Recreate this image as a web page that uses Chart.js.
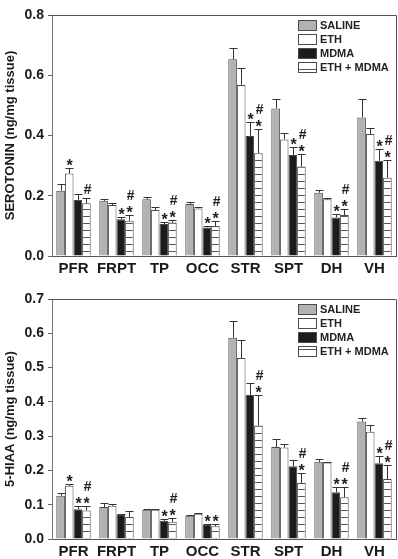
<!DOCTYPE html>
<html lang="en">
<head>
    <meta charset="UTF-8">
    <title>Serotonin and 5-HIAA</title>
    <style>
        body {
            margin: 0;
            padding: 0;
            background: #ffffff;
            font-family: "Liberation Sans", Arial, sans-serif;
        }
        .panel {
            position: absolute;
            left: 0;
            width: 398px;
        }
    </style>
</head>
<body>
    <div class="panel" style="top: 0; height: 280px;">
        <canvas id="serotoninChart" width="398" height="280"></canvas>
    </div>
    <div class="panel" style="top: 280px; height: 279px;">
        <canvas id="hiaaChart" width="398" height="279"></canvas>
    </div>

    <script src="https://cdn.jsdelivr.net/npm/chart.js"></script>
    <script>
        const regions = ['PFR', 'FRPT', 'TP', 'OCC', 'STR', 'SPT', 'DH', 'VH'];
        const seriesNames = ['SALINE', 'ETH', 'MDMA', 'ETH + MDMA'];

        // serotonin (ng/mg tissue), mean and SEM
        const serSaline = [0.217, 0.183, 0.188, 0.173, 0.653, 0.490, 0.210, 0.460];
        const serSalineErr = [0.021, 0.007, 0.009, 0.006, 0.036, 0.030, 0.009, 0.060];
        const serEth = [0.274, 0.169, 0.153, 0.158, 0.568, 0.387, 0.188, 0.405];
        const serEthErr = [0.017, 0.006, 0.009, 0.005, 0.057, 0.020, 0.003, 0.021];
        const serMdma = [0.186, 0.122, 0.106, 0.095, 0.398, 0.335, 0.128, 0.316];
        const serMdmaErr = [0.019, 0.009, 0.008, 0.006, 0.046, 0.028, 0.010, 0.040];
        const serCombo = [0.175, 0.117, 0.111, 0.100, 0.341, 0.297, 0.136, 0.260];
        const serComboErr = [0.019, 0.019, 0.009, 0.016, 0.079, 0.040, 0.020, 0.059];
        const serTicks = [0.0, 0.2, 0.4, 0.6, 0.8];

        // 5-HIAA (ng/mg tissue), mean and SEM
        const hiaaSaline = [0.126, 0.093, 0.085, 0.068, 0.587, 0.268, 0.225, 0.343];
        const hiaaSalineErr = [0.008, 0.012, 0.002, 0.002, 0.050, 0.023, 0.008, 0.009];
        const hiaaEth = [0.155, 0.097, 0.085, 0.074, 0.528, 0.267, 0.223, 0.313];
        const hiaaEthErr = [0.004, 0.004, 0.002, 0.002, 0.051, 0.011, 0.002, 0.020];
        const hiaaMdma = [0.087, 0.070, 0.053, 0.041, 0.420, 0.212, 0.136, 0.221];
        const hiaaMdmaErr = [0.008, 0.003, 0.005, 0.004, 0.036, 0.019, 0.015, 0.022];
        const hiaaCombo = [0.083, 0.064, 0.050, 0.037, 0.331, 0.163, 0.122, 0.175];
        const hiaaComboErr = [0.014, 0.018, 0.010, 0.006, 0.090, 0.029, 0.031, 0.042];
        const hiaaTicks = [0.0, 0.1, 0.2, 0.3, 0.4, 0.5, 0.6, 0.7];

        // significance marks above each bar ('#*' = # stacked over *)
        const serSigSaline = ['', '', '', '', '', '', '', ''];
        const serSigEth = ['*', '', '', '', '', '', '', ''];
        const serSigMdma = ['', '*', '*', '*', '*', '*', '*', '*'];
        const serSigCombo = ['#', '#*', '#*', '#*', '#*', '#*', '#*', '#*'];
        const hiaaSigSaline = ['', '', '', '', '', '', '', ''];
        const hiaaSigEth = ['*', '', '', '', '', '', '', ''];
        const hiaaSigMdma = ['*', '', '*', '*', '', '', '*', '*'];
        const hiaaSigCombo = ['#*', '', '#*', '*', '#*', '#*', '#*', '#*'];

        const FONT = '"Liberation Sans", Arial, sans-serif';
        const EDGE = '#4a4a4a';

        function stripePattern() {
            const c = document.createElement('canvas');
            c.width = 8;
            c.height = 7;
            const g = c.getContext('2d');
            g.fillStyle = '#ffffff';
            g.fillRect(0, 0, 8, 7);
            g.fillStyle = '#555555';
            g.fillRect(0, 6, 8, 1);
            return g.createPattern(c, 'repeat');
        }

        const fills = ['#b2b2b2', '#ffffff', '#1c1c1c', stripePattern()];

        // error bars, significance marks, frame and legend
        const extrasPlugin = {
            id: 'extras',
            afterDatasetsDraw(chart) {
                const ctx = chart.ctx;
                const y = chart.scales.y;
                const area = chart.chartArea;
                ctx.save();
                chart.data.datasets.forEach((ds, di) => {
                    const meta = chart.getDatasetMeta(di);
                    meta.data.forEach((bar, i) => {
                        const top = y.getPixelForValue(ds.data[i] + ds.err[i]);
                        const x = Math.round(bar.x) + 0.5;
                        ctx.strokeStyle = '#333';
                        ctx.lineWidth = 1;
                        ctx.beginPath();
                        ctx.moveTo(x, bar.y);
                        ctx.lineTo(x, Math.round(top) + 0.5);
                        ctx.moveTo(x - 4, Math.round(top) + 0.5);
                        ctx.lineTo(x + 4, Math.round(top) + 0.5);
                        ctx.stroke();

                        const marks = ds.sig[i];
                        let yy = top;
                        ctx.fillStyle = '#222';
                        ctx.textAlign = 'center';
                        ctx.textBaseline = 'alphabetic';
                        for (let k = marks.length - 1; k >= 0; k--) {
                            if (marks[k] === '*') {
                                ctx.font = 'bold 16px ' + FONT;
                                ctx.fillText('*', x, yy + 3);
                                yy -= 11;
                            } else {
                                ctx.font = 'italic bold 14px ' + FONT;
                                ctx.fillText('#', x + 1, yy - 4);
                                yy -= 14;
                            }
                        }
                    });
                });

                // top and right frame lines
                ctx.strokeStyle = '#555';
                ctx.lineWidth = 1;
                ctx.beginPath();
                ctx.moveTo(area.left - 3, Math.round(area.top) + 0.5);
                ctx.lineTo(Math.round(area.right) + 0.5, Math.round(area.top) + 0.5);
                ctx.lineTo(Math.round(area.right) + 0.5, area.bottom);
                ctx.stroke();

                // legend in the top right corner
                ctx.font = 'bold 11px ' + FONT;
                ctx.textAlign = 'left';
                ctx.textBaseline = 'middle';
                chart.data.datasets.forEach((ds, di) => {
                    const ly = Math.round(area.top + 5 + di * 14);
                    const lx = Math.round(area.right - 98);
                    ctx.fillStyle = ds.backgroundColor;
                    ctx.fillRect(lx, ly, 18, 10);
                    ctx.strokeStyle = EDGE;
                    ctx.strokeRect(lx + 0.5, ly + 0.5, 18, 10);
                    ctx.fillStyle = '#222';
                    ctx.fillText(ds.label, lx + 22, ly + 5.5);
                });
                ctx.restore();
            }
        };

        function createChart(id, series, errs, sigs, ticks, title, topPad, xHeight) {
            const ctx = document.getElementById(id).getContext('2d');
            return new Chart(ctx, {
                type: 'bar',
                data: {
                    labels: regions,
                    datasets: series.map((s, i) => ({
                        label: seriesNames[i],
                        data: s,
                        err: errs[i],
                        sig: sigs[i],
                        backgroundColor: fills[i],
                        borderColor: EDGE,
                        borderWidth: 1,
                        categoryPercentage: 0.8,
                        barPercentage: 1.0
                    }))
                },
                options: {
                    responsive: false,
                    animation: false,
                    layout: {
                        padding: { top: topPad, right: 2, left: 0, bottom: 0 }
                    },
                    plugins: {
                        legend: { display: false },
                        tooltip: { enabled: false }
                    },
                    scales: {
                        x: {
                            grid: { display: false, drawTicks: false },
                            border: { display: true, color: '#555' },
                            ticks: {
                                padding: 4,
                                maxRotation: 0,
                                minRotation: 0,
                                autoSkip: false,
                                color: '#1a1a1a',
                                font: { family: FONT, size: 15, weight: 'bold' }
                            },
                            afterFit: (scale) => { scale.height = xHeight; }
                        },
                        y: {
                            min: ticks[0],
                            max: ticks[ticks.length - 1],
                            afterBuildTicks: (scale) => {
                                scale.ticks = ticks.map(v => ({ value: v }));
                            },
                            grid: {
                                drawOnChartArea: false,
                                drawTicks: true,
                                tickLength: 4,
                                color: '#666'
                            },
                            border: { display: true, color: '#777' },
                            ticks: {
                                padding: 4,
                                color: '#1a1a1a',
                                font: { family: FONT, size: 14, weight: 'bold' },
                                callback: (value) => value.toFixed(1)
                            },
                            title: {
                                display: true,
                                text: title,
                                color: '#1a1a1a',
                                padding: { top: 3, bottom: 0 },
                                font: { family: FONT, size: 13, weight: 'bold' }
                            },
                            afterFit: (scale) => { scale.width = 52; }
                        }
                    }
                },
                plugins: [extrasPlugin]
            });
        }

        createChart('serotoninChart',
            [serSaline, serEth, serMdma, serCombo],
            [serSalineErr, serEthErr, serMdmaErr, serComboErr],
            [serSigSaline, serSigEth, serSigMdma, serSigCombo],
            serTicks, 'SEROTONIN (ng/mg tissue)', 15, 24);

        createChart('hiaaChart',
            [hiaaSaline, hiaaEth, hiaaMdma, hiaaCombo],
            [hiaaSalineErr, hiaaEthErr, hiaaMdmaErr, hiaaComboErr],
            [hiaaSigSaline, hiaaSigEth, hiaaSigMdma, hiaaSigCombo],
            hiaaTicks, '5-HIAA (ng/mg tissue)', 19, 20);
    </script>
</body>
</html>
